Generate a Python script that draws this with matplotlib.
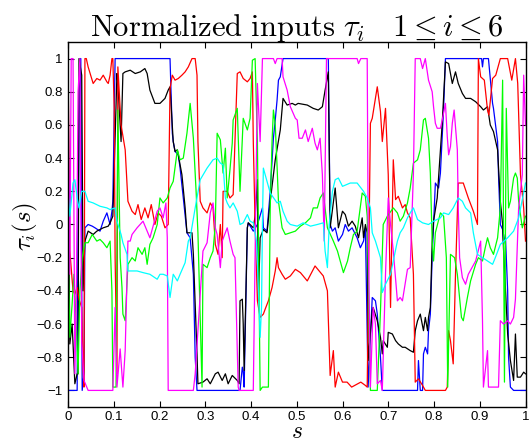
import matplotlib
matplotlib.use("Agg")
import matplotlib.pyplot as plt
import numpy as np

plt.rcParams["mathtext.fontset"] = "cm"
plt.rcParams["axes.unicode_minus"] = True

# ── data: (s, tau) samples ────────────────────────────────────────────────────
blue_s = [0, 0.020, 0.022, 0.026, 0.028, 0.031, 0.035, 0.037, 0.044, 0.053, 0.059, 0.070, 0.077, 0.085, 0.092, 0.096,
          0.098, 0.103, 0.223, 0.228, 0.230, 0.234, 0.241, 0.245, 0.252, 0.260, 0.267, 0.274, 0.278, 0.282, 0.376,
          0.381, 0.383, 0.385, 0.392, 0.394, 0.405, 0.414, 0.425, 0.427, 0.435, 0.442, 0.449, 0.453, 0.457, 0.460,
          0.464, 0.470, 0.569, 0.573, 0.578, 0.584, 0.591, 0.600, 0.606, 0.613, 0.621, 0.632, 0.639, 0.646, 0.650,
          0.656, 0.665, 0.672, 0.676, 0.683, 0.687, 0.764, 0.766, 0.770, 0.775, 0.777, 0.781, 0.786, 0.788, 0.792,
          0.796, 0.799, 0.803, 0.810, 0.814, 0.821, 0.825, 0.904, 0.906, 0.908, 0.919, 0.928, 0.930, 0.939, 0.941,
          0.945, 0.950, 0.952, 0.956, 0.961, 0.963, 0.967, 0.974, 1.0]
blue_v = [-1, -1, 0.0, 1, 1, -1, -0.9, -0.02, 0.0, -0.01, -0.02, -0.04, 0.02, 0.07, 0.0, 0.08,
          0.14, 1, 1, 0.55, 0.5, 0.44, 0.42, 0.34, 0.16, -0.05, -0.08, -0.3, -0.8, -1, -1,
          -0.86, -0.89, -0.98, -0.02, 0.01, -0.04, 0.0, 0.1, -0.02, -0.04, 0.2, 0.52, 0.63, 0.75, 0.87,
          0.89, 1, 1, 0.0, -0.04, -0.02, -0.1, -0.06, 0.0, -0.04, -0.02, -0.08, -0.14, -0.1, -0.02,
          -0.98, -0.44, -0.46, -0.54, -0.8, -1, -1, -0.82, -1, -1, -0.78, -0.74, -0.78, -0.64, -0.54,
          -0.2, 0.0, 0.25, 0.22, 0.31, 0.7, 1, 1, 0.95, 1, 1, 0.73, 0.7, 0.5, 0.3,
          0.0, -0.03, -0.12, -0.06, -0.4, -0.8, -0.98, -1, -1]

black_s = [0, 0.004, 0.009, 0.015, 0.020, 0.022, 0.024, 0.030, 0.033, 0.037, 0.044, 0.055, 0.063, 0.077, 0.088, 0.092,
           0.098, 0.107, 0.109, 0.116, 0.120, 0.125, 0.136, 0.147, 0.158, 0.168, 0.173, 0.179, 0.190, 0.201, 0.212,
           0.219, 0.223, 0.230, 0.234, 0.239, 0.249, 0.256, 0.260, 0.271, 0.274, 0.282, 0.284, 0.295, 0.304, 0.311,
           0.322, 0.328, 0.337, 0.344, 0.350, 0.359, 0.370, 0.374, 0.376, 0.381, 0.383, 0.385, 0.392, 0.394, 0.398,
           0.405, 0.409, 0.414, 0.416, 0.420, 0.427, 0.435, 0.442, 0.453, 0.464, 0.470, 0.479, 0.490, 0.497, 0.503,
           0.523, 0.536, 0.547, 0.556, 0.562, 0.569, 0.573, 0.584, 0.591, 0.600, 0.606, 0.613, 0.621, 0.628, 0.635,
           0.643, 0.646, 0.650, 0.654, 0.656, 0.665, 0.667, 0.676, 0.683, 0.687, 0.689, 0.698, 0.700, 0.709, 0.716,
           0.722, 0.731, 0.737, 0.748, 0.755, 0.759, 0.764, 0.770, 0.777, 0.781, 0.786, 0.788, 0.792, 0.796, 0.799,
           0.807, 0.818, 0.825, 0.832, 0.840, 0.847, 0.853, 0.862, 0.869, 0.880, 0.891, 0.902, 0.908, 0.917, 0.923,
           0.930, 0.939, 0.945, 0.950, 0.952, 0.961, 0.967, 0.974, 0.978, 0.982, 0.989, 0.996, 1.0]
black_v = [0.46, -0.72, -0.6, -0.96, -0.9, -0.9, 1.0, 0.9, -0.4, -0.1, -0.04, -0.06, -0.04, -0.02, -0.01, 0.01,
           0.05, 0.91, 0.85, 0.5, 0.91, 0.92, 0.93, 0.91, 0.92, 0.94, 0.91, 0.81, 0.73, 0.73, 0.76,
           0.81, 0.83, 0.5, 0.44, 0.45, 0.3, 0.1, -0.05, -0.05, -0.18, -0.78, -0.96, -0.95, -0.93, -0.96,
           -0.9, -0.89, -0.94, -0.9, -0.96, -0.91, -0.94, -0.96, -0.46, -0.45, -0.6, -0.88, -0.02, 0.01, 0.0,
           -0.02, 0.05, 0.27, -0.46, -0.08, -0.03, -0.05, 0.14, 0.39, 0.57, 0.76, 0.72, 0.73, 0.72, 0.73,
           0.72, 0.7, 0.69, 0.71, 0.81, 0.92, -0.02, 0.22, -0.02, 0.08, 0.06, -0.01, 0.02, -0.01, -0.08,
           0.04, -0.08, 0.0, -0.05, -0.82, -0.52, -0.5, -0.58, -0.68, -0.78, -0.7, -0.74, -0.65, -0.66, -0.7,
           -0.72, -0.74, -0.74, -0.76, -0.77, -0.64, -0.58, -0.54, -0.64, -0.56, -0.64, -0.56, -0.5, -0.11, 0.02,
           0.16, 0.61, 0.98, 0.97, 0.85, 0.92, 0.85, 0.79, 0.76, 0.76, 0.74, 0.71, 0.69, 0.71, 0.6,
           0.56, 0.45, 0.14, 0.0, -0.15, -0.66, -0.82, -0.94, -0.66, -0.92, -0.92, -0.89, -0.9]

red_s = [0, 0.004, 0.011, 0.015, 0.020, 0.024, 0.030, 0.033, 0.035, 0.037, 0.040, 0.044, 0.055, 0.063, 0.070, 0.077,
         0.085, 0.088, 0.092, 0.096, 0.098, 0.101, 0.103, 0.107, 0.109, 0.112, 0.116, 0.125, 0.131, 0.140, 0.147,
         0.153, 0.160, 0.168, 0.175, 0.182, 0.190, 0.197, 0.204, 0.212, 0.219, 0.223, 0.228, 0.234, 0.241, 0.249,
         0.256, 0.263, 0.271, 0.278, 0.282, 0.284, 0.289, 0.295, 0.304, 0.311, 0.317, 0.322, 0.328, 0.333, 0.337,
         0.339, 0.348, 0.354, 0.361, 0.370, 0.376, 0.383, 0.392, 0.398, 0.403, 0.405, 0.409, 0.414, 0.420, 0.427,
         0.431, 0.438, 0.446, 0.453, 0.457, 0.460, 0.468, 0.475, 0.486, 0.497, 0.508, 0.523, 0.540, 0.558, 0.567,
         0.573, 0.580, 0.584, 0.591, 0.600, 0.610, 0.620, 0.640, 0.650, 0.654, 0.661, 0.665, 0.676, 0.683, 0.687,
         0.694, 0.700, 0.705, 0.711, 0.716, 0.722, 0.731, 0.737, 0.742, 0.748, 0.755, 0.759, 0.766, 0.775, 0.781,
         0.825, 0.829, 0.832, 0.836, 0.842, 0.847, 0.853, 0.864, 0.875, 0.886, 0.895, 0.897, 0.902, 0.910, 0.917,
         0.920, 0.928, 0.935, 0.945, 0.961, 0.970, 0.978, 0.983, 0.989, 0.996, 1.0]
red_v = [1.0, -0.16, -0.4, -0.42, -0.38, -0.45, -0.5, -0.88, -0.98, 1.0, 1.0, 0.95, 0.85, 0.88, 0.87, 0.9,
         0.86, 0.85, 0.9, 1.0, 1.0, 0.7, -0.2, -0.9, 0.95, 0.8, 0.6, 0.45, 0.14, 0.08, 0.06,
         0.12, 0.03, 0.1, 0.04, 0.12, 0.0, 0.07, 0.05, -0.02, 0.0, 0.82, 0.9, 0.87, 0.88, 0.9,
         0.92, 0.95, 1.0, 1.0, 0.9, 0.5, 0.14, 0.1, 0.07, 0.13, 0.1, -0.12, -0.18, 0.0, -0.2,
         0.2, 0.2, 0.16, 0.18, 0.91, 0.92, 0.88, 0.86, 0.88, 0.92, 0.5, 0.0, -0.46, -0.56, -0.54,
         -0.51, -0.46, -0.38, -0.28, -0.2, -0.26, -0.3, -0.33, -0.31, -0.27, -0.29, -0.34, -0.25, -0.31, -0.4,
         -0.91, -0.76, -0.98, -0.89, -0.95, -0.95, -0.98, -0.95, -0.97, -0.98, 0.61, 0.64, 0.83, 0.68, 0.5,
         0.7, 0.3, -0.5, 0.39, 0.15, 0.17, 0.1, 0.12, 0.07, 0.04, -0.3, -0.95, -0.93, -0.97, -1,
         -1, -0.98, -0.64, -0.7, -0.84, -0.3, 0.25, 0.25, 0.16, 0.08, 0.0, 1.0, 0.89, 0.87, 0.69,
         0.66, 0.88, 0.9, 1.0, 1.0, 0.87, 1.0, 0.85, 0.3, 0.1, -0.1]

green_s = [0, 0.004, 0.009, 0.013, 0.018, 0.022, 0.026, 0.031, 0.037, 0.044, 0.053, 0.063, 0.070, 0.077, 0.085, 0.092,
           0.096, 0.098, 0.105, 0.109, 0.114, 0.118, 0.120, 0.125, 0.131, 0.140, 0.147, 0.153, 0.162, 0.168, 0.173,
           0.179, 0.186, 0.195, 0.201, 0.208, 0.217, 0.223, 0.230, 0.239, 0.245, 0.252, 0.260, 0.267, 0.274, 0.280,
           0.284, 0.289, 0.293, 0.295, 0.304, 0.311, 0.317, 0.322, 0.326, 0.333, 0.339, 0.344, 0.348, 0.354, 0.359,
           0.361, 0.370, 0.376, 0.383, 0.392, 0.398, 0.403, 0.409, 0.414, 0.420, 0.425, 0.438, 0.442, 0.446, 0.449,
           0.453, 0.457, 0.460, 0.468, 0.475, 0.486, 0.497, 0.508, 0.519, 0.530, 0.536, 0.545, 0.551, 0.558, 0.567,
           0.580, 0.589, 0.595, 0.602, 0.611, 0.617, 0.624, 0.632, 0.643, 0.650, 0.654, 0.661, 0.676, 0.683, 0.689,
           0.698, 0.711, 0.720, 0.726, 0.733, 0.742, 0.748, 0.755, 0.764, 0.770, 0.777, 0.781, 0.788, 0.792, 0.796,
           0.799, 0.803, 0.814, 0.821, 0.827, 0.830, 0.836, 0.845, 0.851, 0.860, 0.864, 0.873, 0.880, 0.891, 0.897,
           0.906, 0.912, 0.917, 0.923, 0.930, 0.939, 0.945, 0.950, 0.954, 0.958, 0.963, 0.967, 0.974, 0.978, 0.982,
           0.985, 0.993, 1.0]
green_v = [-0.1, -0.68, -0.48, -0.3, -0.6, -0.9, -0.4, -0.2, -0.11, -0.11, -0.06, -0.1, -0.09, -0.11, -0.14, -0.1,
           -0.4, -0.98, -0.98, 0.69, -0.2, -0.38, -0.54, -0.58, -0.24, -0.2, -0.22, -0.14, -0.18, -0.14, -0.24,
           -0.12, -0.08, 0.0, 0.16, 0.13, 0.16, 0.22, 0.26, 0.45, 0.39, 0.4, 0.55, 0.73, 0.52, 0.2,
           -0.05, -0.58, -0.98, -0.24, -0.26, -0.2, -0.16, 0.0, 0.55, 0.51, 0.31, 0.46, 0.16, 0.33, 0.49,
           0.63, 0.7, 0.2, 0.64, 0.57, 0.64, 0.99, 1.0, 0.5, -1.0, -0.98, -0.98, 0.1, 0.5, 0.69,
           0.6, 0.35, 0.14, -0.02, -0.06, -0.05, -0.04, -0.01, 0.01, 0.04, 0.1, 0.1, 0.16, 0.19, -0.02,
           -0.1, -0.16, -0.22, -0.29, -0.22, -0.14, -0.06, -0.04, 0.19, 0.17, 0.05, -1.0, -1.0, -0.52, 0.0,
           0.05, 0.1, 0.07, 0.02, 0.05, 0.13, 0.22, 0.37, 0.39, 0.45, 0.63, 0.64, 0.52, 0.31, -0.1,
           -0.22, -0.05, 0.07, 0.05, -0.2, -0.98, -0.18, -0.2, -0.3, -0.56, -0.58, -0.44, -0.34, -0.24, -0.2,
           -0.22, -0.14, -0.08, -0.14, -0.18, -0.08, 0.1, 0.87, -0.95, 0.7, 0.1, 0.14, 0.28, 0.31, 0.28,
           0.14, -0.02, 0.05]

magenta_s = [0, 0.004, 0.007, 0.011, 0.015, 0.018, 0.022, 0.026, 0.030, 0.035, 0.044, 0.098, 0.103, 0.107, 0.114,
             0.120, 0.125, 0.131, 0.136, 0.140, 0.151, 0.164, 0.179, 0.195, 0.201, 0.208, 0.214, 0.217, 0.219, 0.274,
             0.278, 0.295, 0.304, 0.311, 0.317, 0.322, 0.326, 0.333, 0.337, 0.348, 0.354, 0.361, 0.365, 0.372, 0.374,
             0.405, 0.414, 0.420, 0.425, 0.449, 0.453, 0.457, 0.468, 0.470, 0.479, 0.486, 0.497, 0.501, 0.505, 0.512,
             0.519, 0.525, 0.534, 0.540, 0.545, 0.551, 0.556, 0.560, 0.565, 0.632, 0.635, 0.640, 0.654, 0.656, 0.661,
             0.667, 0.672, 0.676, 0.683, 0.687, 0.694, 0.700, 0.705, 0.711, 0.720, 0.726, 0.731, 0.742, 0.748, 0.755,
             0.759, 0.770, 0.775, 0.781, 0.788, 0.796, 0.799, 0.803, 0.807, 0.814, 0.818, 0.825, 0.829, 0.832, 0.836,
             0.840, 0.844, 0.851, 0.853, 0.856, 0.862, 0.869, 0.875, 0.891, 0.902, 0.906, 0.908, 0.917, 0.919, 0.941,
             0.945, 0.952, 0.961, 0.967, 0.974, 0.978, 0.985, 0.993, 0.996, 1.0]
magenta_v = [1, -0.3, 1.0, 1.0, -0.9, -0.5, 0.8, 1.0, -0.7, -0.94, -1, -1, -0.5, -0.98, -0.75,
             -0.98, -0.76, -0.1, -0.1, -0.06, -0.02, 0.02, -0.08, 0.08, 0.1, 0.04, 0.13, -0.08, -1, -1,
             -0.9, -0.16, -0.11, 0.07, 0.13, -0.02, -0.06, -0.26, -0.1, -0.02, -0.1, -0.18, -0.2, -0.98, -1,
             -1, 0.85, 0.5, 1.0, 1.0, 0.97, 1.0, 1.0, 0.89, 0.81, 0.71, 0.64, 0.63, 0.52, 0.52,
             0.57, 0.5, 0.58, 0.49, 0.45, 0.52, 0.3, -0.1, 1.0, 1.0, 0.97, 1.0, 1.0, 0.0, -0.98,
             -0.5, -0.6, -0.96, -0.94, -1, -0.3, 0.16, 0.0, -0.16, -0.46, -0.44, -0.46, -0.27, -0.26, 0.31,
             1.0, 1.0, 0.94, 1.0, 0.87, 0.8, 0.71, 0.61, 0.58, 0.58, 0.63, 0.73, 0.53, 0.42, 0.47,
             0.61, 0.69, 0.45, 0.1, -0.2, -0.32, -0.36, -0.3, -0.22, -0.1, -0.58, -0.98, -0.76, -0.98, -0.98,
             -0.58, -0.6, -0.58, -0.6, -0.56, -0.45, 0.1, 0.3, 0.9, 0.6]

cyan_s = [0, 0.004, 0.011, 0.015, 0.020, 0.024, 0.030, 0.037, 0.044, 0.055, 0.070, 0.085, 0.092, 0.103, 0.107, 0.116,
          0.120, 0.129, 0.131, 0.140, 0.151, 0.164, 0.179, 0.195, 0.201, 0.208, 0.217, 0.223, 0.230, 0.239, 0.245,
          0.256, 0.263, 0.267, 0.278, 0.289, 0.304, 0.317, 0.326, 0.333, 0.339, 0.344, 0.348, 0.354, 0.361, 0.370,
          0.376, 0.383, 0.392, 0.398, 0.405, 0.412, 0.416, 0.420, 0.423, 0.425, 0.427, 0.435, 0.442, 0.457, 0.464,
          0.470, 0.479, 0.486, 0.501, 0.514, 0.530, 0.545, 0.558, 0.562, 0.567, 0.571, 0.578, 0.584, 0.591, 0.600,
          0.617, 0.632, 0.646, 0.654, 0.661, 0.665, 0.672, 0.683, 0.687, 0.694, 0.705, 0.711, 0.720, 0.726, 0.733,
          0.742, 0.748, 0.755, 0.764, 0.775, 0.788, 0.799, 0.814, 0.821, 0.832, 0.842, 0.853, 0.862, 0.869, 0.880,
          0.886, 0.895, 0.906, 0.917, 0.928, 0.934, 0.945, 0.961, 0.974, 0.985, 0.993, 1.0]
cyan_v = [0.2, 0.05, 0.25, 0.27, 0.16, 0.1, 0.2, 0.2, 0.14, 0.13, 0.11, 0.1, 0.09, 0.1, 0.02, -0.06,
          -0.11, -0.18, -0.28, -0.28, -0.28, -0.29, -0.3, -0.33, -0.3, -0.3, -0.31, -0.44, -0.3, -0.34, -0.3,
          -0.23, -0.1, -0.08, 0.1, 0.27, 0.34, 0.39, 0.4, 0.37, 0.36, 0.16, 0.13, 0.1, 0.13, 0.08,
          0.0, 0.01, 0.06, 0.02, 0.01, -0.1, -0.38, -0.68, -0.5, 0.0, 0.34, 0.26, 0.19, 0.13, 0.14,
          0.08, 0.02, 0.0, -0.01, 0.01, -0.01, 0.0, 0.01, -0.16, -0.26, 0.0, 0.2, 0.27, 0.28, 0.23,
          0.25, 0.25, 0.2, 0.16, 0.1, -0.05, -0.1, -0.2, -0.41, -0.36, -0.3, -0.22, -0.1, -0.05, -0.02,
          0.04, 0.07, 0.1, 0.03, 0.01, 0.0, 0.02, 0.04, 0.07, 0.06, 0.1, 0.16, 0.14, 0.1, 0.07,
          -0.05, -0.18, -0.2, -0.22, -0.24, -0.2, -0.12, -0.08, -0.04, 0.04, 0.15, 0.25]

xtick_vals = [0, 0.1, 0.2, 0.3, 0.4, 0.5, 0.6, 0.7, 0.8, 0.9, 1.0]
xtick_labels = ["0", "0.1", "0.2", "0.3", "0.4", "0.5", "0.6", "0.7", "0.8", "0.9", "1"]
ytick_vals = [-1, -0.8, -0.6, -0.4, -0.2, 0, 0.2, 0.4, 0.6, 0.8, 1]
ytick_labels = ["\u22121", "\u22120.8", "\u22120.6", "\u22120.4", "\u22120.2", "0", "0.2", "0.4", "0.6", "0.8", "1"]

series = [
    (blue_s, blue_v, "#0000ff"),
    (black_s, black_v, "#000000"),
    (red_s, red_v, "#ff0000"),
    (green_s, green_v, "#00ff00"),
    (magenta_s, magenta_v, "#ff00ff"),
    (cyan_s, cyan_v, "#00ffff"),
]

fig = plt.figure(figsize=(5.29, 4.44), dpi=100)
ax = fig.add_axes([68 / 529, 37 / 444, 457.5 / 529, 365 / 444])

for s, v, col in series:
    ax.plot(s, v, color=col, lw=0.9)

ax.set_xlim(0, 1)
ax.set_ylim(-1.1, 1.1)
ax.set_xticks(xtick_vals)
ax.set_xticklabels(xtick_labels, fontname="Liberation Sans", fontsize=9.5)
ax.set_yticks(ytick_vals)
ax.set_yticklabels(ytick_labels, fontname="Liberation Sans", fontsize=9.5)
ax.tick_params(direction="in", top=True, right=True, length=4, width=0.8)
ax.tick_params(axis="x", pad=3)
ax.tick_params(axis="y", pad=4)
for sp in ax.spines.values():
    sp.set_linewidth(1.0)

ax.set_title(r"$\mathrm{Normalized\ inputs}\ \tau_i\quad 1 \leq i \leq 6$", fontsize=22, pad=4)
# axis labels placed by hand to sit where the reference puts them
fig.text(25 / 529, 1 - 226 / 444, r"$\tau_i(s)$", fontsize=18, rotation=90, ha="center", va="center")
fig.text(0.5 * (68 + 525.5) / 529, 1 / 444, r"$s$", fontsize=17, ha="center", va="bottom")

fig.savefig("out.png", dpi=100)
